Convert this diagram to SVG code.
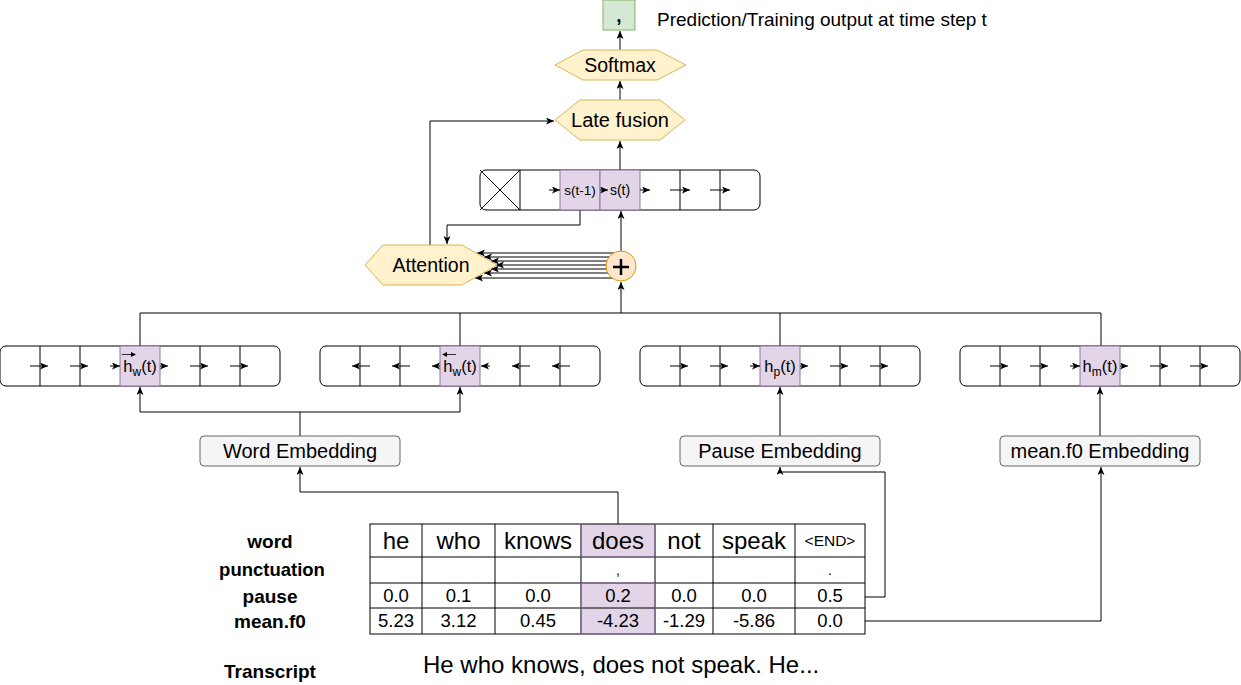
<svg xmlns="http://www.w3.org/2000/svg" width="1241" height="685" viewBox="0 0 1241 685">
<defs>
<marker id="ah" markerUnits="userSpaceOnUse" markerWidth="9" markerHeight="8" refX="8" refY="3.5" orient="auto">
<path d="M0,0 L8,3.5 L0,7 L2,3.5 z" fill="#000"/>
</marker>
<style>
text{font-family:"Liberation Sans",Arial,sans-serif;fill:#000}
.hex{fill:#fff2cc;stroke:#d6b656;stroke-width:1}
.row{fill:#fff;stroke:#000;stroke-width:1}
.cl{stroke:#000;stroke-width:1}
.pc{fill:#e1d5e7;stroke:#9673a6;stroke-width:1}
.emb{fill:#f5f5f5;stroke:#666;stroke-width:1}
.ln{fill:none;stroke:#000;stroke-width:1}
.ar{fill:none;stroke:#000;stroke-width:1;marker-end:url(#ah)}
.lbl{font-size:19px;font-weight:bold;text-anchor:middle}
.cell{font-size:16.5px;text-anchor:middle}
.sub{font-size:12px}
.tw{font-size:24px;text-anchor:middle}
.tn{font-size:18.5px;text-anchor:middle}
</style>
</defs>

<g id="connectors">
<path class="ar" d="M620,50 L620,31"/>
<path class="ar" d="M620,100 L620,81"/>
<path class="ar" d="M620,170 L620,141"/>
<path class="ar" d="M621,251 L621,211"/>
<path class="ar" d="M621,313 L621,282"/>
<path class="ar" d="M430,245 L430,121 L554,121"/>
<path class="ar" d="M580,210 L580,225 L447,225 L447,244"/>
<path class="ar" d="M614,253 L477,253"/>
<path class="ar" d="M614,257 L484,257"/>
<path class="ar" d="M614,261 L491,261"/>
<path class="ar" d="M614,265 L496,265"/>
<path class="ar" d="M614,269 L491,269"/>
<path class="ar" d="M614,273 L484,273"/>
<path class="ar" d="M614,278 L475,278"/>
<path class="ln" d="M140,346 L140,313 L1101,313 L1101,346"/>
<path class="ln" d="M460,313 L460,346"/>
<path class="ln" d="M780,313 L780,346"/>
<path class="ln" d="M300,436 L300,412 M140,412 L460,412"/>
<path class="ar" d="M140,412 L140,387"/>
<path class="ar" d="M460,412 L460,387"/>
<path class="ar" d="M780,436 L780,387"/>
<path class="ar" d="M1100,436 L1100,387"/>
<path class="ar" d="M618,524 L618,492 L300,492 L300,467"/>
<path class="ar" d="M865,597 L885,597 L885,472 L780,472 L780,467"/>
<path class="ar" d="M865,621 L1101,621 L1101,467"/>
</g>

<g id="output">
<rect x="603" y="0" width="32" height="30" fill="#d5e8d4" stroke="#82b366"/>
<text x="619" y="22" style="font-size:19px;font-weight:bold;text-anchor:middle">,</text>
<text x="657" y="26" style="font-size:19px">Prediction/Training output at time step t</text>
</g>

<g id="softmax">
<polygon class="hex" points="555,65 583,50 657,50 686,65 657,80 583,80"/>
<text x="620" y="72" style="font-size:19.5px;text-anchor:middle">Softmax</text>
</g>

<g id="late-fusion">
<polygon class="hex" points="555,120 580,100 660,100 685,120 660,140 580,140"/>
<text x="620" y="127" style="font-size:20px;text-anchor:middle">Late fusion</text>
</g>

<g id="decoder">
<rect class="row" x="480" y="170" width="280" height="40" rx="6"/>
<path class="cl" d="M480,170 L520,210 M520,170 L480,210 M520,170 L520,210 M680,170 L680,210 M720,170 L720,210"/>
<rect class="pc" x="560" y="170" width="40" height="40"/>
<rect class="pc" x="600" y="170" width="40" height="40"/>
<text x="580" y="195" style="font-size:13.5px;text-anchor:middle">s(t-1)</text>
<text x="620" y="195" style="font-size:14px;text-anchor:middle">s(t)</text>
<path class="ar" d="M549,190 L560,190"/>
<path class="ar" d="M600,190 L608,190"/>
<path class="ar" d="M640,190 L650,190"/>
<path class="ar" d="M670,190 L690,190"/>
<path class="ar" d="M710,190 L730,190"/>
</g>

<g id="attention">
<polygon class="hex" points="365,265 383,245 462,245 497,265 462,285 383,285"/>
<text x="431" y="272" style="font-size:19.5px;text-anchor:middle">Attention</text>
</g>

<g id="sum">
<circle cx="621" cy="266" r="15" fill="#ffe6cc" stroke="#d79b00"/>
<path d="M613,267 L629,267 M621,259 L621,275" stroke="#000" stroke-width="2.5"/>
</g>

<g id="enc-fw-word">
<rect class="row" x="0" y="346" width="280" height="40" rx="6"/>
<path class="cl" d="M40,346 L40,386 M80,346 L80,386 M200,346 L200,386 M240,346 L240,386"/>
<rect class="pc" x="120" y="346" width="40" height="40"/>
<path class="ar" d="M30,366 L48,366"/>
<path class="ar" d="M70,366 L88,366"/>
<path class="ar" d="M110,366 L120,366"/>
<path class="ar" d="M160,366 L168,366"/>
<path class="ar" d="M190,366 L208,366"/>
<path class="ar" d="M230,366 L248,366"/>
<text x="140" y="372" class="cell">h<tspan dy="4" class="sub">w</tspan><tspan dy="-4">(t)</tspan></text>
<path d="M122,354.5 L134,354.5" stroke="#000" stroke-width="0.8"/>
<path d="M131,352 L136,354.5 L131,357 z" fill="#000"/>
</g>

<g id="enc-bw-word">
<rect class="row" x="320" y="346" width="280" height="40" rx="6"/>
<path class="cl" d="M360,346 L360,386 M400,346 L400,386 M520,346 L520,386 M560,346 L560,386"/>
<rect class="pc" x="440" y="346" width="40" height="40"/>
<path class="ar" d="M370,366 L352,366"/>
<path class="ar" d="M410,366 L392,366"/>
<path class="ar" d="M440,366 L432,366"/>
<path class="ar" d="M490,366 L481,366"/>
<path class="ar" d="M530,366 L512,366"/>
<path class="ar" d="M570,366 L552,366"/>
<text x="460" y="372" class="cell">h<tspan dy="4" class="sub">w</tspan><tspan dy="-4">(t)</tspan></text>
<path d="M444,354.5 L456,354.5" stroke="#000" stroke-width="0.8"/>
<path d="M447,352 L442,354.5 L447,357 z" fill="#000"/>
</g>

<g id="enc-pause">
<rect class="row" x="640" y="346" width="280" height="40" rx="6"/>
<path class="cl" d="M680,346 L680,386 M720,346 L720,386 M840,346 L840,386 M880,346 L880,386"/>
<rect class="pc" x="760" y="346" width="40" height="40"/>
<path class="ar" d="M670,366 L688,366"/>
<path class="ar" d="M710,366 L728,366"/>
<path class="ar" d="M750,366 L760,366"/>
<path class="ar" d="M800,366 L808,366"/>
<path class="ar" d="M830,366 L848,366"/>
<path class="ar" d="M870,366 L888,366"/>
<text x="780" y="372" class="cell">h<tspan dy="4" class="sub">p</tspan><tspan dy="-4">(t)</tspan></text>
</g>

<g id="enc-f0">
<rect class="row" x="960" y="346" width="280" height="40" rx="6"/>
<path class="cl" d="M1000,346 L1000,386 M1040,346 L1040,386 M1160,346 L1160,386 M1200,346 L1200,386"/>
<rect class="pc" x="1080" y="346" width="40" height="40"/>
<path class="ar" d="M990,366 L1008,366"/>
<path class="ar" d="M1030,366 L1048,366"/>
<path class="ar" d="M1070,366 L1080,366"/>
<path class="ar" d="M1120,366 L1128,366"/>
<path class="ar" d="M1150,366 L1168,366"/>
<path class="ar" d="M1190,366 L1208,366"/>
<text x="1100" y="372" class="cell">h<tspan dy="4" class="sub">m</tspan><tspan dy="-4">(t)</tspan></text>
</g>

<g id="word-embedding">
<rect class="emb" x="200" y="436" width="200" height="30" rx="4"/>
<text x="300" y="458" style="font-size:20px;text-anchor:middle">Word Embedding</text>
</g>
<g id="pause-embedding">
<rect class="emb" x="680" y="436" width="200" height="30" rx="4"/>
<text x="780" y="458" style="font-size:20px;text-anchor:middle">Pause Embedding</text>
</g>
<g id="f0-embedding">
<rect class="emb" x="1000" y="436" width="200" height="30" rx="4"/>
<text x="1100" y="458" style="font-size:20px;text-anchor:middle">mean.f0 Embedding</text>
</g>

<g id="table">
<rect x="581" y="524" width="74" height="33" fill="#e1d5e7"/>
<rect x="581" y="583" width="74" height="51" fill="#e1d5e7"/>
<rect x="370" y="524" width="495" height="110" fill="none" stroke="#000"/>
<path class="cl" d="M370,557 L865,557 M370,583 L865,583 M370,608 L865,608 M422,524 L422,634 M495,524 L495,634 M581,524 L581,634 M655,524 L655,634 M713,524 L713,634 M795,524 L795,634"/>
<path d="M581,524 L581,557 L655,557 L655,524 M581,583 L581,634 L655,634 L655,583 L581,583" fill="none" stroke="#9673a6"/>
<text x="396" y="549" class="tw">he</text>
<text x="458.5" y="549" class="tw">who</text>
<text x="538" y="549" class="tw">knows</text>
<text x="618" y="549" class="tw">does</text>
<text x="684" y="549" class="tw">not</text>
<text x="754" y="549" class="tw">speak</text>
<text x="830" y="546" style="font-size:15.5px;text-anchor:middle">&lt;END&gt;</text>
<text x="618" y="575" style="font-size:14px;text-anchor:middle">,</text>
<text x="830" y="575" style="font-size:14px;text-anchor:middle">.</text>
<text x="396" y="602" class="tn">0.0</text>
<text x="458.5" y="602" class="tn">0.1</text>
<text x="538" y="602" class="tn">0.0</text>
<text x="618" y="602" class="tn">0.2</text>
<text x="684" y="602" class="tn">0.0</text>
<text x="754" y="602" class="tn">0.0</text>
<text x="830" y="602" class="tn">0.5</text>
<text x="396" y="627" class="tn">5.23</text>
<text x="458.5" y="627" class="tn">3.12</text>
<text x="538" y="627" class="tn">0.45</text>
<text x="618" y="627" class="tn">-4.23</text>
<text x="684" y="627" class="tn">-1.29</text>
<text x="754" y="627" class="tn">-5.86</text>
<text x="830" y="627" class="tn">0.0</text>
</g>

<g id="row-labels">
<text x="270" y="548" class="lbl">word</text>
<text x="272" y="576" class="lbl" style="font-size:18.5px">punctuation</text>
<text x="270" y="603" class="lbl">pause</text>
<text x="270" y="628" class="lbl">mean.f0</text>
<text x="270" y="678" class="lbl">Transcript</text>
<text x="423" y="673" style="font-size:24px">He who knows, does not speak. He...</text>
</g>
</svg>
